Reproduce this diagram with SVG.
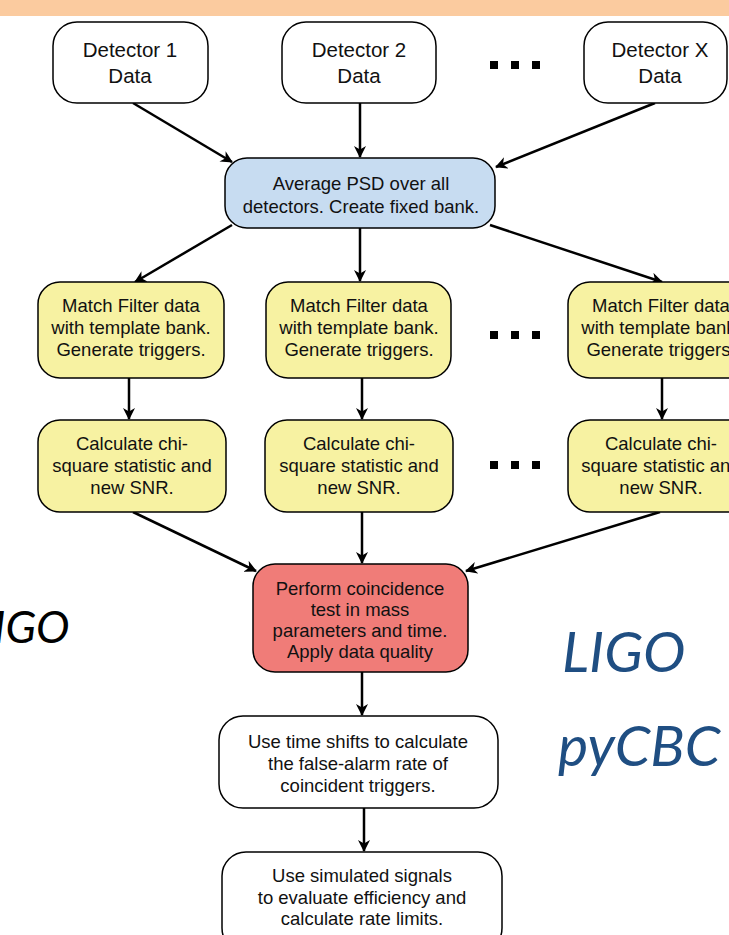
<svg xmlns="http://www.w3.org/2000/svg" width="729" height="935" viewBox="0 0 729 935">
<style>
.box{stroke:#000;stroke-width:1.5}
.w{fill:#fff}.b{fill:#c7dcf1}.y{fill:#f7f2a2}.r{fill:#f07c78}
.t{font-family:"Liberation Sans",Arial,sans-serif;font-size:18.5px;fill:#111;text-anchor:middle}
.d{font-size:20.5px}
.c{stroke:#000;stroke-width:2.5;fill:none;marker-end:url(#ah)}
.big{font-family:Lato,"Open Sans",sans-serif;font-style:italic}
</style>
<defs>
<marker id="ah" markerWidth="12" markerHeight="12" viewBox="0 0 12 12" refX="11" refY="6" orient="auto" markerUnits="userSpaceOnUse">
<path d="M0,0 L12,6 L0,12 L3.5,6 z" fill="#000"/>
</marker>
</defs>
<rect x="0" y="0" width="729" height="16" fill="#fbcb9f"/>
<g id="connectors">
<line class="c" x1="133" y1="103" x2="232" y2="162"/>
<line class="c" x1="360" y1="103" x2="360" y2="157"/>
<line class="c" x1="655" y1="103" x2="496" y2="167"/>
<line class="c" x1="232" y1="225" x2="135" y2="282"/>
<line class="c" x1="360" y1="228" x2="360" y2="281"/>
<line class="c" x1="490" y1="225" x2="662" y2="282"/>
<line class="c" x1="129" y1="378" x2="129" y2="419"/>
<line class="c" x1="362" y1="378" x2="362" y2="419"/>
<line class="c" x1="662" y1="378" x2="662" y2="419"/>
<line class="c" x1="133" y1="512" x2="256" y2="571"/>
<line class="c" x1="362" y1="512" x2="362" y2="563"/>
<line class="c" x1="660" y1="512" x2="466" y2="571"/>
<line class="c" x1="362" y1="672" x2="362" y2="715"/>
<line class="c" x1="364" y1="808" x2="364" y2="851"/>
</g>
<g id="det1"><rect class="box w" x="53" y="22" width="155" height="81" rx="24"/>
<text class="t d" x="130" y="57">Detector 1</text><text class="t d" x="130" y="83">Data</text></g>
<g id="det2"><rect class="box w" x="282" y="22" width="154" height="81" rx="24"/>
<text class="t d" x="359" y="57">Detector 2</text><text class="t d" x="359" y="83">Data</text></g>
<g id="dots1" fill="#000"><rect x="490" y="61" width="8" height="8"/><rect x="511" y="61" width="8" height="8"/><rect x="532" y="61" width="8" height="8"/></g>
<g id="detx"><rect class="box w" x="584" y="22" width="143" height="81" rx="24"/>
<text class="t d" x="660" y="57">Detector X</text><text class="t d" x="660" y="83">Data</text></g>
<g id="avg"><rect class="box b" x="225" y="158" width="270" height="70" rx="22"/>
<text class="t" x="361" y="190">Average PSD over all</text><text class="t" x="361" y="213">detectors. Create fixed bank.</text></g>
<g id="mf1"><rect class="box y" x="38" y="282" width="186" height="96" rx="22"/>
<text class="t" x="131" y="312">Match Filter data</text><text class="t" x="131" y="334">with template bank.</text><text class="t" x="131" y="356">Generate triggers.</text></g>
<g id="mf2"><rect class="box y" x="266" y="282" width="185" height="96" rx="22"/>
<text class="t" x="359" y="312">Match Filter data</text><text class="t" x="359" y="334">with template bank.</text><text class="t" x="359" y="356">Generate triggers.</text></g>
<g id="dots2" fill="#000"><rect x="490" y="331" width="8" height="8"/><rect x="511" y="331" width="8" height="8"/><rect x="532" y="331" width="8" height="8"/></g>
<g id="mfx"><rect class="box y" x="568" y="282" width="190" height="96" rx="22"/>
<text class="t" x="661" y="312">Match Filter data</text><text class="t" x="661" y="334">with template bank.</text><text class="t" x="661" y="356">Generate triggers.</text></g>
<g id="chi1"><rect class="box y" x="38" y="420" width="188" height="92" rx="22"/>
<text class="t" x="132" y="450">Calculate chi-</text><text class="t" x="132" y="472">square statistic and</text><text class="t" x="132" y="494">new SNR.</text></g>
<g id="chi2"><rect class="box y" x="265" y="420" width="188" height="92" rx="22"/>
<text class="t" x="359" y="450">Calculate chi-</text><text class="t" x="359" y="472">square statistic and</text><text class="t" x="359" y="494">new SNR.</text></g>
<g id="dots3" fill="#000"><rect x="490" y="461" width="8" height="8"/><rect x="511" y="461" width="8" height="8"/><rect x="532" y="461" width="8" height="8"/></g>
<g id="chix"><rect class="box y" x="568" y="420" width="190" height="92" rx="22"/>
<text class="t" x="661" y="450">Calculate chi-</text><text class="t" x="661" y="472">square statistic and</text><text class="t" x="661" y="494">new SNR.</text></g>
<g id="coinc"><rect class="box r" x="253" y="564" width="215" height="108" rx="22"/>
<text class="t" x="360" y="595">Perform coincidence</text><text class="t" x="360" y="616">test in mass</text><text class="t" x="360" y="637">parameters and time.</text><text class="t" x="360" y="658">Apply data quality</text></g>
<g id="far"><rect class="box w" x="219" y="716" width="279" height="92" rx="24"/>
<text class="t" x="358" y="748">Use time shifts to calculate</text><text class="t" x="358" y="770">the false-alarm rate of</text><text class="t" x="358" y="792">coincident triggers.</text></g>
<g id="sim"><rect class="box w" x="222" y="852" width="280" height="100" rx="24"/>
<text class="t" x="362" y="882">Use simulated signals</text><text class="t" x="362" y="904">to evaluate efficiency and</text><text class="t" x="362" y="925">calculate rate limits.</text></g>
<text class="big" x="-28" y="643" font-size="45" fill="#000">LIGO</text>
<text class="big" x="562" y="672" font-size="57" fill="#1f4e82">LIGO</text>
<text class="big" x="558" y="766" font-size="57" fill="#1f4e82">pyCBC</text>
</svg>
